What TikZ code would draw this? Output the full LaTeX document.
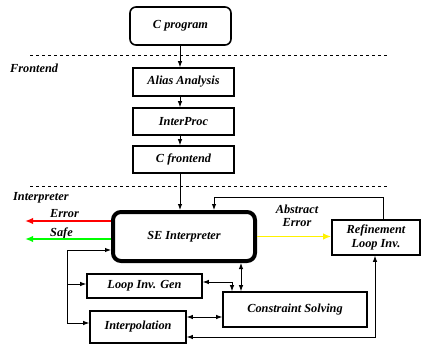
\documentclass[tikz,border=0pt]{standalone}
\usepackage{fontspec}
\setmainfont{Liberation Serif}
\usetikzlibrary{arrows.meta,calc}
\begin{document}
\begin{tikzpicture}[x=1pt,y=-1pt,
  lbl/.style={font=\fontsize{12.3}{13.5}\selectfont\bfseries\itshape, inner sep=0pt},
  box/.style={draw, line width=1.6pt, font=\fontsize{12.3}{13.5}\selectfont\bfseries\itshape, inner sep=0pt, align=center},
  arr/.style={line width=0.9pt, -{Latex[length=6pt,width=4.5pt]}},
  darr/.style={line width=0.9pt, {Latex[length=6pt,width=4.5pt]}-{Latex[length=6pt,width=4.5pt]}},
  carr/.style={line width=1.8pt, -{Latex[length=8pt,width=6.5pt]}},
  sep/.style={line width=0.7pt, dash pattern=on 3pt off 3pt}]
\useasboundingbox (0,0) rectangle (421,345);
% separators
\draw[sep] (30,55) -- (388,55);
\draw[sep] (30,186) -- (388,186);
% boxes
\node[box, rounded corners=6pt, minimum width=101pt, minimum height=38pt] (cprog) at (180.5,26) {C program};
\node[box, minimum width=101pt, minimum height=28pt] (alias) at (183.5,82) {Alias Analysis};
\node[box, minimum width=101pt, minimum height=27pt] (interproc) at (183.5,121.5) {InterProc};
\node[box, minimum width=101pt, minimum height=27pt] (cfront) at (183.5,159.5) {C frontend};
\node[box, line width=4pt, rounded corners=8pt, minimum width=142pt, minimum height=49pt] (se) at (184,236.5) {SE Interpreter};
\node[box, minimum width=88pt, minimum height=35pt] (refine) at (376,237.5) {Refinement\\Loop Inv.};
\node[box, minimum width=115pt, minimum height=24pt] (loopinv) at (144.5,286) {Loop Inv. Gen};
\node[box, minimum width=96pt, minimum height=32pt] (interp) at (138,327) {Interpolation};
\node[box, minimum width=144pt, minimum height=35pt] (cs) at (295,309.5) {Constraint Solving};
% labels
\node[lbl, anchor=west] (frontend) at (10,68) {Frontend};
\node[lbl, anchor=west] (interpreter) at (13,198) {Interpreter};
\node[lbl, anchor=west] (errlbl) at (50,214) {Error};
\node[lbl, anchor=west] (safelbl) at (50,233) {Safe};
\node[lbl, align=center] (abserr) at (297,216) {Abstract\\Error};
% coordinates
\coordinate (x180) at (180,0);
\coordinate (fb) at (214,197);
\coordinate (errend) at (25,221);
\coordinate (safeend) at (25,239);
\coordinate (bus) at (67,250);
\coordinate (busmid) at (67,284);
\coordinate (busbot) at (67,323);
\coordinate (sx) at (241,0);
\coordinate (lx) at (232,0);
\coordinate (iy) at (0,317);
\coordinate (by) at (375,337);
% frontend chain
\draw[arr] (x180 |- cprog.south) -- (x180 |- alias.north);
\draw[arr] (x180 |- alias.south) -- (x180 |- interproc.north);
\draw[arr] (x180 |- interproc.south) -- (x180 |- cfront.north);
\draw[arr] (x180 |- cfront.south) -- (x180 |- se.north);
% feedback from refinement
\draw[arr] ([xshift=7pt]refine.north) |- (fb) -- (fb |- se.north);
% coloured outputs
\draw[carr, red] (se.west |- errend) -- (errend);
\draw[carr, green] (se.west |- safeend) -- (safeend);
\draw[carr, yellow] (se.east) -- (refine.west |- se.east);
% left bus
\draw[line width=0.9pt] (busbot) -- (bus);
\draw[arr] (bus) -- (bus -| se.west);
\draw[arr] (busmid) -- (busmid -| loopinv.west);
\draw[arr] (busbot) -- (busbot -| interp.west);
% constraint solving links
\draw[darr] (sx |- se.south) -- (sx |- cs.north);
\draw[darr] ([yshift=4pt]loopinv.east) -| (lx |- cs.north);
\draw[darr] (interp.east |- iy) -- (cs.west |- iy);
\draw[darr] (interp.east |- by) -| (by |- refine.south);
\end{tikzpicture}
\end{document}
